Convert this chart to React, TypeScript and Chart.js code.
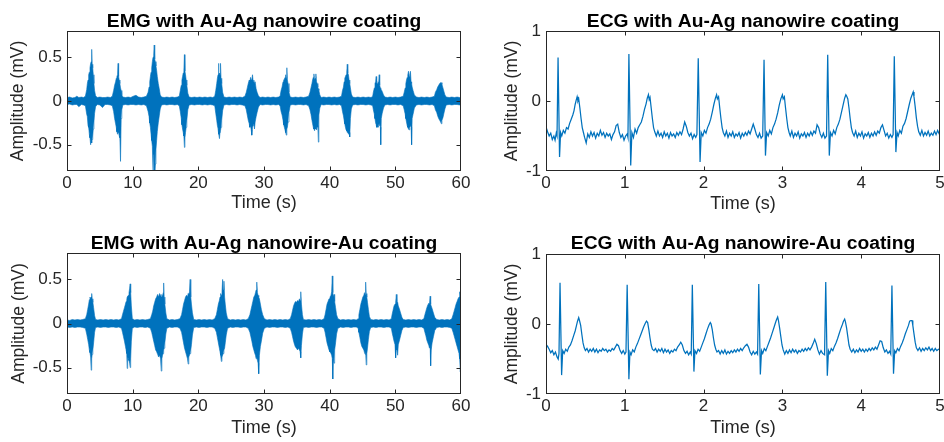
import React, { useEffect, useRef } from "react";
import { Chart, registerables } from "chart.js";

Chart.register(...registerables);

// ---------- data ----------
const emgTimeTicks = [0, 10, 20, 30, 40, 50, 60];
const emgAmpTicks = [-0.5, 0, 0.5];
const ecgTimeTicks = [0, 1, 2, 3, 4, 5];
const ecgAmpTicks = [-1, 0, 1];

const titles = [
  "EMG with Au-Ag nanowire coating",
  "ECG with Au-Ag nanowire coating",
  "EMG with Au-Ag nanowire-Au coating",
  "ECG with Au-Ag nanowire-Au coating",
];
const timeLabel = "Time (s)";
const ampLabel = "Amplitude (mV)";

// EMG envelopes: [time s, upper mV, lower mV]
const emg1Envelope: [number, number, number][] = [
  [0, 0.04, -0.04], [0.4, 0.045, -0.035], [0.8, 0.035, -0.045], [1.2, 0.04, -0.04], [1.5, 0.055, -0.04],
  [1.8, 0.04, -0.065], [2.2, 0.045, -0.04], [2.5, 0.04, -0.045], [2.8, 0.055, -0.055],
  [3.0, 0.13, -0.15], [3.1, 0.2, -0.18], [3.2, 0.24, -0.28], [3.3, 0.3, -0.3], [3.4, 0.33, -0.38],
  [3.5, 0.38, -0.42], [3.6, 0.43, -0.5], [3.68, 0.45, -0.46], [3.76, 0.59, -0.48], [3.84, 0.42, -0.44],
  [3.92, 0.38, -0.4], [4.0, 0.3, -0.32], [4.1, 0.2, -0.24], [4.2, 0.12, -0.14], [4.35, 0.06, -0.065],
  [4.6, 0.04, -0.04], [5.0, 0.045, -0.045], [5.4, 0.04, -0.075], [5.8, 0.04, -0.04], [6.2, 0.045, -0.04],
  [6.6, 0.04, -0.045], [6.9, 0.055, -0.055],
  [7.1, 0.12, -0.12], [7.25, 0.18, -0.2], [7.4, 0.22, -0.26], [7.5, 0.26, -0.3], [7.6, 0.28, -0.35],
  [7.7, 0.3, -0.38], [7.78, 0.43, -0.34], [7.86, 0.28, -0.36], [7.95, 0.24, -0.4], [8.05, 0.2, -0.42],
  [8.15, 0.15, -0.69], [8.25, 0.12, -0.2], [8.35, 0.07, -0.1], [8.5, 0.045, -0.045],
  [8.9, 0.04, -0.04], [9.3, 0.045, -0.045], [9.7, 0.04, -0.04], [10.1, 0.055, -0.04], [10.5, 0.065, -0.045],
  [10.9, 0.045, -0.04], [11.3, 0.04, -0.045], [11.7, 0.045, -0.04], [12.1, 0.055, -0.055],
  [12.35, 0.1, -0.12], [12.5, 0.16, -0.18], [12.6, 0.22, -0.25], [12.7, 0.28, -0.3], [12.8, 0.33, -0.38],
  [12.9, 0.38, -0.45], [13.0, 0.45, -0.52], [13.1, 0.5, -0.82], [13.2, 0.52, -0.62], [13.28, 0.64, -0.6],
  [13.36, 0.48, -0.82], [13.45, 0.45, -0.72], [13.55, 0.4, -0.55], [13.65, 0.35, -0.45], [13.75, 0.28, -0.35],
  [13.9, 0.2, -0.25], [14.05, 0.14, -0.17], [14.2, 0.07, -0.09], [14.4, 0.045, -0.045],
  [14.8, 0.04, -0.04], [15.2, 0.045, -0.045], [15.6, 0.04, -0.04], [16.0, 0.045, -0.04], [16.4, 0.04, -0.045],
  [16.8, 0.045, -0.04], [17.1, 0.055, -0.055],
  [17.25, 0.12, -0.12], [17.4, 0.18, -0.2], [17.5, 0.24, -0.27], [17.6, 0.28, -0.32], [17.7, 0.32, -0.36],
  [17.8, 0.35, -0.4], [17.88, 0.53, -0.53], [17.96, 0.34, -0.42], [18.05, 0.3, -0.36], [18.15, 0.24, -0.3],
  [18.25, 0.18, -0.22], [18.4, 0.09, -0.1], [18.6, 0.045, -0.045],
  [19.0, 0.04, -0.04], [19.4, 0.045, -0.045], [19.8, 0.04, -0.04], [20.2, 0.045, -0.04], [20.6, 0.04, -0.045],
  [21.0, 0.045, -0.04], [21.4, 0.04, -0.045], [21.8, 0.045, -0.04], [22.2, 0.04, -0.045], [22.5, 0.055, -0.055],
  [22.65, 0.12, -0.14], [22.8, 0.2, -0.22], [22.9, 0.26, -0.28], [23.0, 0.3, -0.32], [23.06, 0.43, -0.34],
  [23.14, 0.3, -0.38], [23.22, 0.32, -0.43], [23.3, 0.3, -0.36], [23.38, 0.43, -0.34], [23.46, 0.26, -0.3],
  [23.56, 0.2, -0.22], [23.7, 0.1, -0.11], [23.9, 0.045, -0.045],
  [24.3, 0.04, -0.04], [24.7, 0.045, -0.045], [25.1, 0.04, -0.04], [25.5, 0.045, -0.04], [25.9, 0.04, -0.045],
  [26.3, 0.045, -0.04], [26.7, 0.04, -0.045], [27.1, 0.055, -0.055],
  [27.3, 0.1, -0.1], [27.45, 0.15, -0.16], [27.6, 0.2, -0.22], [27.75, 0.24, -0.26], [27.85, 0.22, -0.3],
  [27.95, 0.27, -0.28], [28.05, 0.24, -0.33], [28.15, 0.25, -0.39], [28.25, 0.3, -0.3], [28.35, 0.22, -0.28],
  [28.45, 0.24, -0.26], [28.55, 0.2, -0.32], [28.65, 0.22, -0.24], [28.8, 0.14, -0.18], [28.95, 0.1, -0.13],
  [29.15, 0.06, -0.07], [29.4, 0.04, -0.04],
  [29.8, 0.045, -0.045], [30.2, 0.04, -0.04], [30.6, 0.045, -0.04], [31.0, 0.04, -0.045], [31.4, 0.045, -0.04],
  [31.8, 0.04, -0.045], [32.2, 0.045, -0.04], [32.45, 0.055, -0.055],
  [32.6, 0.12, -0.12], [32.75, 0.16, -0.16], [32.9, 0.22, -0.22], [33.0, 0.24, -0.27], [33.1, 0.25, -0.3],
  [33.2, 0.27, -0.33], [33.3, 0.3, -0.36], [33.4, 0.26, -0.39], [33.48, 0.38, -0.32], [33.56, 0.24, -0.3],
  [33.66, 0.2, -0.24], [33.8, 0.1, -0.13], [34.0, 0.045, -0.045],
  [34.4, 0.04, -0.04], [34.8, 0.045, -0.045], [35.2, 0.04, -0.04], [35.6, 0.045, -0.04], [36.0, 0.04, -0.045],
  [36.4, 0.045, -0.04], [36.8, 0.055, -0.055],
  [37.0, 0.1, -0.1], [37.15, 0.15, -0.15], [37.3, 0.2, -0.22], [37.4, 0.24, -0.26], [37.5, 0.27, -0.3],
  [37.6, 0.31, -0.32], [37.7, 0.24, -0.34], [37.8, 0.26, -0.3], [37.9, 0.31, -0.32], [38.0, 0.22, -0.33],
  [38.1, 0.2, -0.28], [38.2, 0.16, -0.3], [38.28, 0.14, -0.47], [38.36, 0.12, -0.16], [38.5, 0.07, -0.08],
  [38.7, 0.04, -0.04],
  [39.1, 0.045, -0.045], [39.5, 0.04, -0.04], [39.9, 0.045, -0.04], [40.3, 0.04, -0.045], [40.7, 0.045, -0.04],
  [41.1, 0.04, -0.045], [41.5, 0.045, -0.04], [41.8, 0.055, -0.055],
  [41.95, 0.12, -0.12], [42.1, 0.16, -0.17], [42.2, 0.22, -0.22], [42.3, 0.26, -0.26], [42.4, 0.28, -0.3],
  [42.5, 0.3, -0.33], [42.6, 0.33, -0.34], [42.68, 0.42, -0.36], [42.76, 0.32, -0.35], [42.86, 0.3, -0.38],
  [42.96, 0.24, -0.36], [43.06, 0.2, -0.41], [43.16, 0.15, -0.2], [43.3, 0.08, -0.09], [43.5, 0.045, -0.045],
  [43.9, 0.04, -0.04], [44.3, 0.045, -0.045], [44.7, 0.04, -0.04], [45.1, 0.045, -0.04], [45.5, 0.04, -0.045],
  [45.9, 0.045, -0.04], [46.3, 0.04, -0.045], [46.55, 0.055, -0.055],
  [46.65, 0.1, -0.1], [46.8, 0.15, -0.15], [46.9, 0.2, -0.2], [47.0, 0.22, -0.25], [47.08, 0.28, -0.27],
  [47.16, 0.21, -0.3], [47.26, 0.2, -0.28], [47.36, 0.22, -0.3], [47.46, 0.2, -0.26], [47.54, 0.3, -0.28],
  [47.62, 0.18, -0.25], [47.72, 0.15, -0.3], [47.78, 0.14, -0.5], [47.86, 0.13, -0.2], [48.0, 0.11, -0.14],
  [48.2, 0.07, -0.08], [48.4, 0.045, -0.045],
  [48.8, 0.04, -0.04], [49.2, 0.045, -0.045], [49.6, 0.04, -0.04], [50.0, 0.045, -0.04], [50.4, 0.04, -0.045],
  [50.8, 0.045, -0.04], [51.2, 0.055, -0.055],
  [51.35, 0.1, -0.1], [51.5, 0.15, -0.15], [51.6, 0.2, -0.2], [51.7, 0.24, -0.24], [51.8, 0.27, -0.28],
  [51.9, 0.3, -0.3], [52.0, 0.34, -0.32], [52.1, 0.28, -0.33], [52.2, 0.3, -0.3], [52.3, 0.34, -0.28],
  [52.4, 0.22, -0.3], [52.48, 0.2, -0.5], [52.56, 0.16, -0.2], [52.7, 0.12, -0.15], [52.9, 0.07, -0.08],
  [53.2, 0.045, -0.045],
  [53.6, 0.04, -0.04], [54.0, 0.045, -0.045], [54.4, 0.04, -0.04], [54.8, 0.045, -0.04], [55.2, 0.04, -0.045],
  [55.6, 0.045, -0.04], [55.95, 0.055, -0.055],
  [56.1, 0.1, -0.1], [56.3, 0.13, -0.13], [56.45, 0.16, -0.17], [56.6, 0.18, -0.2], [56.75, 0.2, -0.22],
  [56.9, 0.21, -0.24], [57.0, 0.21, -0.26], [57.1, 0.19, -0.22], [57.25, 0.15, -0.19], [57.4, 0.11, -0.14],
  [57.55, 0.07, -0.09], [57.75, 0.045, -0.045],
  [58.2, 0.04, -0.04], [58.6, 0.045, -0.045], [59.0, 0.04, -0.04], [59.4, 0.045, -0.04], [59.8, 0.04, -0.045],
  [60.0, 0.04, -0.04],
];

const emg2Envelope: [number, number, number][] = [
  [0, 0.04, -0.04], [0.4, 0.035, -0.045], [0.8, 0.045, -0.04], [1.2, 0.04, -0.045], [1.6, 0.045, -0.04],
  [2.0, 0.04, -0.04], [2.4, 0.045, -0.045], [2.8, 0.055, -0.055],
  [3.0, 0.1, -0.12], [3.15, 0.16, -0.18], [3.3, 0.22, -0.24], [3.4, 0.27, -0.3], [3.5, 0.3, -0.33],
  [3.6, 0.28, -0.38], [3.68, 0.3, -0.53], [3.76, 0.34, -0.4], [3.84, 0.28, -0.35], [3.94, 0.24, -0.3],
  [4.05, 0.18, -0.22], [4.2, 0.09, -0.1], [4.35, 0.045, -0.045],
  [4.7, 0.04, -0.04], [5.1, 0.045, -0.045], [5.5, 0.04, -0.04], [5.9, 0.045, -0.04], [6.3, 0.04, -0.045],
  [6.7, 0.045, -0.04], [7.1, 0.04, -0.04], [7.5, 0.045, -0.045], [7.9, 0.04, -0.04], [8.3, 0.055, -0.055],
  [8.45, 0.1, -0.1], [8.6, 0.14, -0.15], [8.75, 0.18, -0.2], [8.9, 0.22, -0.26], [9.0, 0.25, -0.3],
  [9.1, 0.27, -0.34], [9.16, 0.3, -0.51], [9.24, 0.3, -0.38], [9.34, 0.32, -0.4], [9.44, 0.35, -0.42],
  [9.54, 0.4, -0.45], [9.62, 0.45, -0.5], [9.7, 0.35, -0.4], [9.8, 0.2, -0.2], [9.95, 0.055, -0.055],
  [10.3, 0.04, -0.04], [10.7, 0.045, -0.045], [11.1, 0.04, -0.04], [11.5, 0.045, -0.04], [11.9, 0.04, -0.045],
  [12.3, 0.045, -0.04], [12.7, 0.055, -0.055],
  [12.9, 0.1, -0.1], [13.05, 0.14, -0.15], [13.2, 0.2, -0.2], [13.35, 0.24, -0.25], [13.5, 0.28, -0.3],
  [13.65, 0.3, -0.32], [13.8, 0.33, -0.35], [13.95, 0.3, -0.38], [14.1, 0.34, -0.36], [14.25, 0.32, -0.4],
  [14.35, 0.3, -0.54], [14.45, 0.33, -0.4], [14.55, 0.3, -0.36], [14.65, 0.35, -0.34], [14.72, 0.46, -0.3],
  [14.8, 0.3, -0.28], [14.9, 0.22, -0.22], [15.05, 0.12, -0.12], [15.2, 0.055, -0.055],
  [15.6, 0.04, -0.04], [16.0, 0.045, -0.045], [16.4, 0.04, -0.04], [16.8, 0.045, -0.04], [17.2, 0.055, -0.055],
  [17.45, 0.1, -0.1], [17.6, 0.16, -0.16], [17.75, 0.22, -0.22], [17.9, 0.26, -0.28], [18.05, 0.3, -0.32],
  [18.2, 0.32, -0.36], [18.35, 0.3, -0.4], [18.45, 0.34, -0.46], [18.55, 0.32, -0.38], [18.65, 0.36, -0.36],
  [18.75, 0.5, -0.34], [18.85, 0.3, -0.3], [18.95, 0.22, -0.24], [19.1, 0.12, -0.13], [19.3, 0.045, -0.045],
  [19.7, 0.04, -0.04], [20.1, 0.045, -0.045], [20.5, 0.04, -0.04], [20.9, 0.045, -0.04], [21.3, 0.04, -0.045],
  [21.7, 0.045, -0.04], [22.1, 0.04, -0.04], [22.5, 0.055, -0.055],
  [22.75, 0.1, -0.1], [22.9, 0.16, -0.16], [23.05, 0.22, -0.22], [23.2, 0.26, -0.28], [23.3, 0.3, -0.32],
  [23.4, 0.34, -0.36], [23.5, 0.32, -0.43], [23.6, 0.36, -0.38], [23.7, 0.5, -0.36], [23.8, 0.38, -0.34],
  [23.9, 0.48, -0.3], [24.0, 0.3, -0.28], [24.1, 0.22, -0.22], [24.25, 0.12, -0.13], [24.45, 0.055, -0.055],
  [24.85, 0.04, -0.04], [25.25, 0.045, -0.045], [25.65, 0.04, -0.04], [26.05, 0.045, -0.04], [26.45, 0.04, -0.045],
  [26.85, 0.045, -0.04], [27.25, 0.04, -0.04], [27.6, 0.055, -0.055],
  [27.85, 0.1, -0.1], [28.0, 0.15, -0.15], [28.15, 0.2, -0.2], [28.3, 0.25, -0.26], [28.45, 0.3, -0.3],
  [28.6, 0.32, -0.34], [28.7, 0.35, -0.36], [28.8, 0.38, -0.4], [28.9, 0.47, -0.38], [29.0, 0.35, -0.42],
  [29.1, 0.32, -0.45], [29.2, 0.3, -0.57], [29.3, 0.28, -0.36], [29.45, 0.22, -0.26], [29.6, 0.16, -0.2],
  [29.8, 0.1, -0.11], [30.05, 0.055, -0.055],
  [30.45, 0.04, -0.04], [30.85, 0.045, -0.045], [31.25, 0.04, -0.04], [31.65, 0.045, -0.04], [32.05, 0.04, -0.045],
  [32.45, 0.045, -0.04], [32.85, 0.04, -0.04], [33.25, 0.045, -0.045], [33.65, 0.04, -0.04], [34.0, 0.055, -0.055],
  [34.2, 0.1, -0.1], [34.35, 0.15, -0.15], [34.5, 0.2, -0.2], [34.65, 0.23, -0.24], [34.8, 0.25, -0.27],
  [34.95, 0.24, -0.28], [35.1, 0.26, -0.3], [35.25, 0.25, -0.28], [35.4, 0.28, -0.3], [35.5, 0.26, -0.32],
  [35.6, 0.36, -0.39], [35.7, 0.22, -0.25], [35.85, 0.1, -0.12], [36.0, 0.045, -0.045],
  [36.4, 0.04, -0.04], [36.8, 0.045, -0.045], [37.2, 0.04, -0.04], [37.6, 0.045, -0.04], [38.0, 0.04, -0.045],
  [38.4, 0.045, -0.04], [38.8, 0.04, -0.04], [39.15, 0.055, -0.055],
  [39.3, 0.1, -0.1], [39.45, 0.16, -0.16], [39.6, 0.22, -0.22], [39.75, 0.25, -0.26], [39.9, 0.28, -0.3],
  [40.05, 0.3, -0.32], [40.2, 0.32, -0.34], [40.3, 0.36, -0.36], [40.4, 0.54, -0.4], [40.48, 0.35, -0.63],
  [40.56, 0.3, -0.38], [40.66, 0.33, -0.45], [40.76, 0.25, -0.3], [40.9, 0.18, -0.22], [41.05, 0.1, -0.12],
  [41.25, 0.055, -0.055],
  [41.65, 0.04, -0.04], [42.05, 0.045, -0.045], [42.45, 0.04, -0.04], [42.85, 0.045, -0.04], [43.25, 0.04, -0.045],
  [43.65, 0.045, -0.04], [44.05, 0.04, -0.04], [44.35, 0.055, -0.055],
  [44.45, 0.1, -0.1], [44.6, 0.16, -0.16], [44.75, 0.22, -0.22], [44.9, 0.26, -0.26], [45.05, 0.3, -0.28],
  [45.2, 0.32, -0.3], [45.3, 0.35, -0.33], [45.4, 0.33, -0.35], [45.48, 0.47, -0.32], [45.56, 0.34, -0.47],
  [45.66, 0.3, -0.34], [45.76, 0.24, -0.28], [45.9, 0.16, -0.18], [46.05, 0.08, -0.09], [46.25, 0.045, -0.045],
  [46.65, 0.04, -0.04], [47.05, 0.045, -0.045], [47.45, 0.04, -0.04], [47.85, 0.045, -0.04], [48.25, 0.04, -0.045],
  [48.65, 0.045, -0.04], [49.05, 0.04, -0.04], [49.4, 0.055, -0.055],
  [49.5, 0.1, -0.1], [49.65, 0.15, -0.15], [49.8, 0.2, -0.2], [49.95, 0.22, -0.24], [50.05, 0.24, -0.39],
  [50.15, 0.33, -0.28], [50.25, 0.22, -0.3], [50.35, 0.24, -0.36], [50.45, 0.2, -0.24], [50.6, 0.17, -0.2],
  [50.8, 0.12, -0.14], [51.0, 0.07, -0.08], [51.2, 0.045, -0.045],
  [51.6, 0.04, -0.04], [52.0, 0.045, -0.045], [52.4, 0.04, -0.04], [52.8, 0.045, -0.04], [53.2, 0.04, -0.045],
  [53.6, 0.045, -0.04], [54.0, 0.04, -0.04], [54.35, 0.055, -0.055],
  [54.5, 0.1, -0.1], [54.65, 0.14, -0.14], [54.8, 0.18, -0.19], [54.95, 0.21, -0.22], [55.1, 0.23, -0.25],
  [55.2, 0.22, -0.28], [55.3, 0.31, -0.26], [55.38, 0.22, -0.48], [55.46, 0.2, -0.3], [55.6, 0.17, -0.22],
  [55.8, 0.12, -0.15], [56.0, 0.07, -0.08], [56.3, 0.045, -0.045],
  [56.7, 0.04, -0.04], [57.1, 0.045, -0.045], [57.5, 0.04, -0.04], [57.9, 0.045, -0.04], [58.3, 0.04, -0.045],
  [58.6, 0.055, -0.055],
  [58.8, 0.1, -0.1], [58.95, 0.14, -0.14], [59.1, 0.18, -0.18], [59.25, 0.22, -0.22], [59.4, 0.25, -0.26],
  [59.55, 0.28, -0.3], [59.7, 0.3, -0.34], [59.8, 0.36, -0.4], [59.9, 0.33, -0.55], [60.0, 0.3, -0.3],
];

// ECG traces: [time s, amplitude mV]
const ecg1Trace: [number, number][] = [
  [0.0, -0.37], [0.02, -0.44], [0.04, -0.5], [0.06, -0.46], [0.08, -0.55], [0.1, -0.5], [0.115, -0.56],
  [0.13, -0.46], [0.14, -0.5], [0.153, 0.62], [0.172, -0.8], [0.185, -0.45], [0.2, -0.5], [0.22, -0.42],
  [0.24, -0.46], [0.26, -0.38], [0.28, -0.4], [0.3, -0.32], [0.32, -0.26], [0.34, -0.2], [0.355, -0.14],
  [0.37, -0.05], [0.385, 0.02], [0.395, 0.06], [0.405, 0.0], [0.415, 0.03], [0.43, -0.1], [0.445, -0.25],
  [0.46, -0.38], [0.475, -0.45], [0.49, -0.52], [0.51, -0.6], [0.53, -0.47], [0.55, -0.52], [0.57, -0.44],
  [0.59, -0.5], [0.61, -0.45], [0.63, -0.53], [0.65, -0.46], [0.67, -0.5], [0.69, -0.42], [0.71, -0.49],
  [0.73, -0.45], [0.75, -0.52], [0.77, -0.46], [0.79, -0.5], [0.81, -0.47], [0.83, -0.55], [0.85, -0.48],
  [0.87, -0.44], [0.89, -0.35], [0.91, -0.33], [0.93, -0.45], [0.95, -0.52], [0.97, -0.48], [0.99, -0.56],
  [1.01, -0.5], [1.03, -0.47], [1.04, -0.52], [1.052, 0.67], [1.075, -0.92], [1.09, -0.45], [1.11, -0.52],
  [1.13, -0.4], [1.15, -0.46], [1.17, -0.38], [1.19, -0.34], [1.21, -0.3], [1.23, -0.22], [1.25, -0.12],
  [1.27, -0.04], [1.285, 0.04], [1.3, 0.09], [1.31, 0.02], [1.32, 0.05], [1.335, -0.1], [1.35, -0.25],
  [1.365, -0.38], [1.38, -0.44], [1.4, -0.5], [1.42, -0.43], [1.44, -0.5], [1.46, -0.46], [1.48, -0.52],
  [1.5, -0.44], [1.52, -0.5], [1.54, -0.46], [1.56, -0.53], [1.58, -0.45], [1.6, -0.5], [1.62, -0.47],
  [1.64, -0.52], [1.66, -0.45], [1.68, -0.49], [1.7, -0.44], [1.72, -0.48], [1.74, -0.4], [1.76, -0.3],
  [1.78, -0.36], [1.8, -0.45], [1.82, -0.5], [1.84, -0.46], [1.86, -0.54], [1.88, -0.48], [1.9, -0.52],
  [1.915, -0.48], [1.932, 0.61], [1.955, -0.87], [1.97, -0.45], [1.99, -0.5], [2.01, -0.42], [2.03, -0.46],
  [2.05, -0.38], [2.07, -0.33], [2.09, -0.26], [2.11, -0.16], [2.13, -0.05], [2.15, 0.04], [2.165, 0.09],
  [2.175, 0.03], [2.19, 0.06], [2.205, -0.1], [2.22, -0.25], [2.235, -0.38], [2.25, -0.45], [2.27, -0.5],
  [2.29, -0.43], [2.31, -0.52], [2.33, -0.46], [2.35, -0.5], [2.37, -0.44], [2.39, -0.52], [2.41, -0.47],
  [2.43, -0.5], [2.45, -0.45], [2.47, -0.53], [2.49, -0.46], [2.51, -0.5], [2.53, -0.45], [2.55, -0.49],
  [2.57, -0.43], [2.59, -0.47], [2.61, -0.4], [2.63, -0.33], [2.65, -0.4], [2.67, -0.48], [2.69, -0.52],
  [2.71, -0.46], [2.73, -0.53], [2.75, -0.5], [2.767, 0.59], [2.785, -0.78], [2.8, -0.45], [2.82, -0.5],
  [2.84, -0.42], [2.86, -0.47], [2.88, -0.38], [2.9, -0.33], [2.92, -0.26], [2.94, -0.17], [2.96, -0.06],
  [2.98, 0.03], [3.0, 0.09], [3.01, 0.03], [3.025, 0.06], [3.04, -0.1], [3.055, -0.25], [3.07, -0.38],
  [3.085, -0.45], [3.1, -0.5], [3.12, -0.43], [3.14, -0.52], [3.16, -0.46], [3.18, -0.5], [3.2, -0.44],
  [3.22, -0.53], [3.24, -0.47], [3.26, -0.5], [3.28, -0.45], [3.3, -0.52], [3.32, -0.46], [3.34, -0.5],
  [3.36, -0.44], [3.38, -0.49], [3.4, -0.43], [3.42, -0.46], [3.44, -0.34], [3.46, -0.38], [3.48, -0.47],
  [3.5, -0.52], [3.52, -0.46], [3.54, -0.53], [3.56, -0.5], [3.575, 0.66], [3.595, -0.78], [3.61, -0.45],
  [3.63, -0.5], [3.65, -0.42], [3.67, -0.47], [3.69, -0.38], [3.71, -0.33], [3.73, -0.26], [3.75, -0.16],
  [3.77, -0.06], [3.79, 0.04], [3.805, 0.09], [3.815, 0.07], [3.83, 0.03], [3.845, -0.1], [3.86, -0.25],
  [3.875, -0.38], [3.89, -0.45], [3.91, -0.5], [3.93, -0.43], [3.95, -0.52], [3.97, -0.46], [3.99, -0.5],
  [4.01, -0.44], [4.03, -0.53], [4.05, -0.47], [4.07, -0.5], [4.09, -0.45], [4.11, -0.52], [4.13, -0.46],
  [4.15, -0.5], [4.17, -0.44], [4.19, -0.49], [4.21, -0.43], [4.23, -0.46], [4.25, -0.38], [4.27, -0.34],
  [4.29, -0.42], [4.31, -0.5], [4.33, -0.46], [4.35, -0.53], [4.37, -0.48], [4.39, -0.52], [4.405, -0.48],
  [4.42, 0.64], [4.44, -0.73], [4.455, -0.45], [4.47, -0.5], [4.49, -0.42], [4.51, -0.46], [4.53, -0.36],
  [4.55, -0.32], [4.57, -0.25], [4.59, -0.15], [4.61, -0.05], [4.63, 0.04], [4.65, 0.1], [4.66, 0.13],
  [4.67, 0.06], [4.685, -0.08], [4.7, -0.24], [4.715, -0.36], [4.73, -0.44], [4.75, -0.49], [4.77, -0.42],
  [4.79, -0.5], [4.81, -0.45], [4.83, -0.49], [4.85, -0.43], [4.87, -0.5], [4.89, -0.46], [4.91, -0.49],
  [4.93, -0.43], [4.95, -0.48], [4.97, -0.42], [4.99, -0.47], [5.0, -0.45],
];

const ecg2Trace: [number, number][] = [
  [0.0, -0.29], [0.02, -0.32], [0.04, -0.36], [0.06, -0.41], [0.08, -0.38], [0.1, -0.44], [0.12, -0.4],
  [0.14, -0.47], [0.155, -0.5], [0.165, -0.42], [0.178, 0.59], [0.198, -0.73], [0.212, -0.38], [0.23, -0.42],
  [0.25, -0.36], [0.27, -0.39], [0.29, -0.33], [0.31, -0.3], [0.33, -0.24], [0.35, -0.17], [0.37, -0.1],
  [0.385, -0.03], [0.4, 0.04], [0.415, 0.09], [0.425, 0.05], [0.44, -0.02], [0.455, -0.15], [0.47, -0.27],
  [0.485, -0.34], [0.5, -0.38], [0.52, -0.35], [0.54, -0.4], [0.56, -0.36], [0.58, -0.39], [0.6, -0.35],
  [0.62, -0.4], [0.64, -0.36], [0.66, -0.41], [0.68, -0.37], [0.7, -0.39], [0.72, -0.35], [0.74, -0.38],
  [0.76, -0.36], [0.78, -0.4], [0.8, -0.37], [0.82, -0.39], [0.84, -0.35], [0.86, -0.37], [0.88, -0.33],
  [0.9, -0.29], [0.92, -0.31], [0.94, -0.38], [0.96, -0.42], [0.98, -0.38], [1.0, -0.43], [1.015, -0.4],
  [1.03, 0.56], [1.052, -0.79], [1.065, -0.4], [1.08, -0.44], [1.1, -0.37], [1.12, -0.4], [1.14, -0.33],
  [1.16, -0.28], [1.18, -0.22], [1.2, -0.16], [1.22, -0.1], [1.24, -0.04], [1.26, 0.01], [1.275, 0.04],
  [1.29, 0.02], [1.305, -0.08], [1.32, -0.2], [1.335, -0.3], [1.35, -0.36], [1.37, -0.38], [1.39, -0.35],
  [1.41, -0.4], [1.43, -0.36], [1.45, -0.39], [1.47, -0.35], [1.49, -0.41], [1.51, -0.36], [1.53, -0.4],
  [1.55, -0.37], [1.57, -0.42], [1.59, -0.38], [1.61, -0.4], [1.63, -0.36], [1.65, -0.38], [1.67, -0.33],
  [1.69, -0.3], [1.71, -0.26], [1.73, -0.3], [1.75, -0.38], [1.77, -0.42], [1.79, -0.39], [1.81, -0.44],
  [1.83, -0.4], [1.843, -0.43], [1.857, 0.56], [1.877, -0.68], [1.89, -0.38], [1.91, -0.42], [1.93, -0.36],
  [1.95, -0.39], [1.97, -0.33], [1.99, -0.27], [2.01, -0.21], [2.03, -0.14], [2.05, -0.07], [2.07, -0.01],
  [2.085, 0.02], [2.095, 0.0], [2.11, -0.08], [2.125, -0.2], [2.14, -0.3], [2.155, -0.36], [2.17, -0.4],
  [2.19, -0.38], [2.21, -0.43], [2.23, -0.38], [2.25, -0.42], [2.27, -0.37], [2.29, -0.43], [2.31, -0.39],
  [2.33, -0.42], [2.35, -0.38], [2.37, -0.41], [2.39, -0.37], [2.41, -0.4], [2.43, -0.36], [2.45, -0.39],
  [2.47, -0.35], [2.49, -0.38], [2.51, -0.34], [2.53, -0.31], [2.55, -0.29], [2.57, -0.33], [2.59, -0.4],
  [2.61, -0.44], [2.63, -0.39], [2.65, -0.43], [2.67, -0.4], [2.685, -0.43], [2.7, 0.57], [2.72, -0.72],
  [2.735, -0.38], [2.75, -0.42], [2.77, -0.35], [2.79, -0.38], [2.81, -0.32], [2.83, -0.26], [2.85, -0.2],
  [2.87, -0.13], [2.89, -0.06], [2.91, 0.01], [2.925, 0.06], [2.94, 0.1], [2.95, 0.05], [2.965, -0.06],
  [2.98, -0.18], [2.995, -0.3], [3.01, -0.37], [3.03, -0.43], [3.05, -0.38], [3.07, -0.42], [3.09, -0.37],
  [3.11, -0.41], [3.13, -0.36], [3.15, -0.4], [3.17, -0.37], [3.19, -0.42], [3.21, -0.38], [3.23, -0.4],
  [3.25, -0.36], [3.27, -0.39], [3.29, -0.35], [3.31, -0.38], [3.33, -0.34], [3.35, -0.37], [3.37, -0.33],
  [3.39, -0.28], [3.41, -0.22], [3.43, -0.28], [3.45, -0.37], [3.47, -0.43], [3.49, -0.38], [3.51, -0.42],
  [3.535, -0.44], [3.55, 0.6], [3.57, -0.74], [3.585, -0.38], [3.6, -0.42], [3.62, -0.35], [3.64, -0.38],
  [3.66, -0.32], [3.68, -0.27], [3.7, -0.21], [3.72, -0.14], [3.74, -0.07], [3.76, -0.01], [3.775, 0.04],
  [3.79, 0.07], [3.8, 0.03], [3.815, -0.06], [3.83, -0.18], [3.845, -0.3], [3.86, -0.36], [3.88, -0.4],
  [3.9, -0.36], [3.92, -0.41], [3.94, -0.37], [3.96, -0.4], [3.98, -0.35], [4.0, -0.39], [4.02, -0.36],
  [4.04, -0.4], [4.06, -0.36], [4.08, -0.39], [4.1, -0.35], [4.12, -0.38], [4.14, -0.34], [4.16, -0.37],
  [4.18, -0.33], [4.2, -0.36], [4.22, -0.3], [4.24, -0.24], [4.26, -0.25], [4.28, -0.34], [4.3, -0.4],
  [4.32, -0.37], [4.34, -0.42], [4.36, -0.39], [4.375, -0.43], [4.39, 0.55], [4.41, -0.71], [4.425, -0.38],
  [4.44, -0.41], [4.46, -0.35], [4.48, -0.38], [4.5, -0.32], [4.52, -0.27], [4.54, -0.21], [4.56, -0.14],
  [4.58, -0.08], [4.6, -0.02], [4.615, 0.04], [4.63, 0.05], [4.645, 0.05], [4.655, -0.02], [4.67, -0.14],
  [4.685, -0.26], [4.7, -0.34], [4.72, -0.38], [4.74, -0.34], [4.76, -0.39], [4.78, -0.35], [4.8, -0.38],
  [4.82, -0.34], [4.84, -0.37], [4.86, -0.33], [4.88, -0.38], [4.9, -0.35], [4.92, -0.39], [4.94, -0.35],
  [4.96, -0.38], [4.98, -0.36], [5.0, -0.37],
];

// ---------- style ----------
const BLUE = "#0072BD";
const AXIS = "#262626";
const FONT = "'Liberation Sans', Arial, Helvetica, sans-serif";

type Panel = {
  title: string;
  left: number;
  top: number;
  area: { l: number; r: number; t: number; b: number };
  titleBaseline: number;
  xMin: number; xMax: number; yMin: number; yMax: number;
  xTicks: number[]; yTicks: number[];
  yTitlePad: number; xTitlePad: number;
  band?: [number, number, number][];
  trace?: [number, number][];
};

const W = 472;
const H = 221;

const panels: Panel[] = [
  {
    title: titles[0], left: 0, top: 0, area: { l: 67, r: 461, t: 31, b: 171 }, titleBaseline: 27,
    xMin: 0, xMax: 60, yMin: -0.8, yMax: 0.8, xTicks: emgTimeTicks, yTicks: emgAmpTicks,
    yTitlePad: 7.7, xTitlePad: 6.7, band: emg1Envelope,
  },
  {
    title: titles[1], left: 472, top: 0, area: { l: 74, r: 468, t: 31, b: 171 }, titleBaseline: 27,
    xMin: 0, xMax: 5, yMin: -1, yMax: 1, xTicks: ecgTimeTicks, yTicks: ecgAmpTicks,
    yTitlePad: 29.9, xTitlePad: 6.2, trace: ecg1Trace,
  },
  {
    title: titles[2], left: 0, top: 221, area: { l: 67, r: 461, t: 32, b: 173 }, titleBaseline: 28.3,
    xMin: 0, xMax: 60, yMin: -0.8, yMax: 0.8, xTicks: emgTimeTicks, yTicks: emgAmpTicks,
    yTitlePad: 8.3, xTitlePad: 3.4, band: emg2Envelope,
  },
  {
    title: titles[3], left: 472, top: 221, area: { l: 74, r: 468, t: 33, b: 173 }, titleBaseline: 28.3,
    xMin: 0, xMax: 5, yMin: -1, yMax: 1, xTicks: ecgTimeTicks, yTicks: ecgAmpTicks,
    yTitlePad: 29.9, xTitlePad: 3.4, trace: ecg2Trace,
  },
];

const boxPlugin = {
  id: "matlabBox",
  afterDraw(chart: any) {
    const { ctx, chartArea, scales } = chart;
    const L = Math.round(chartArea.left) + 0.5;
    const R = Math.round(chartArea.right) - 0.5;
    const T = Math.round(chartArea.top) + 0.5;
    const B = Math.round(chartArea.bottom) - 0.5;
    ctx.save();
    ctx.strokeStyle = AXIS;
    ctx.lineWidth = 1;
    ctx.strokeRect(L, T, R - L, B - T);
    ctx.beginPath();
    const tl = 4;
    scales.x.ticks.forEach((t: any) => {
      const px = Math.round(scales.x.getPixelForValue(t.value)) + 0.5;
      if (px <= L + 1 || px >= R - 1) return;
      ctx.moveTo(px, B); ctx.lineTo(px, B - tl);
      ctx.moveTo(px, T); ctx.lineTo(px, T + tl);
    });
    scales.y.ticks.forEach((t: any) => {
      const py = Math.round(scales.y.getPixelForValue(t.value)) + 0.5;
      if (py <= T + 1 || py >= B - 1) return;
      ctx.moveTo(L, py); ctx.lineTo(L + tl, py);
      ctx.moveTo(R, py); ctx.lineTo(R - tl, py);
    });
    ctx.stroke();
    ctx.restore();
  },
};

function makeTitlePlugin(text: string, baseline: number) {
  return {
    id: "panelTitle",
    afterDraw(chart: any) {
      const { ctx, chartArea } = chart;
      ctx.save();
      ctx.font = `bold 17.5px ${FONT}`;
      ctx.fillStyle = "#000000";
      ctx.textAlign = "center";
      ctx.textBaseline = "alphabetic";
      ctx.translate((chartArea.left + chartArea.right) / 2, baseline);
      ctx.scale(1.1, 1);
      ctx.fillText(text, 0, 0);
      ctx.restore();
    },
  };
}

function PanelChart({ p }: { p: Panel }) {
  const ref = useRef<HTMLCanvasElement | null>(null);
  useEffect(() => {
    if (!ref.current) return;
    const datasets: any[] = [];
    if (p.band) {
      datasets.push({
        data: p.band.map(([t, hi]) => ({ x: t, y: hi })),
        borderColor: BLUE, backgroundColor: BLUE, borderWidth: 0.6, fill: "+1",
        pointRadius: 0, tension: 0,
      });
      datasets.push({
        data: p.band.map(([t, , lo]) => ({ x: t, y: lo })),
        borderColor: BLUE, backgroundColor: BLUE, borderWidth: 0.6, fill: false,
        pointRadius: 0, tension: 0,
      });
    }
    if (p.trace) {
      datasets.push({
        data: p.trace.map(([t, v]) => ({ x: t, y: v })),
        borderColor: BLUE, borderWidth: 1.25, fill: false, pointRadius: 0, tension: 0,
      });
    }
    const tickFont = { family: FONT, size: 17 };
    const chart = new Chart(ref.current, {
      type: "line",
      data: { datasets },
      options: {
        animation: false,
        responsive: false,
        maintainAspectRatio: false,
        events: [],
        layout: { padding: { left: 0, top: p.area.t, right: W - p.area.r, bottom: 0 } },
        plugins: { legend: { display: false }, tooltip: { enabled: false }, title: { display: false } },
        scales: {
          x: {
            type: "linear", position: "bottom", min: p.xMin, max: p.xMax,
            grid: { display: false, drawTicks: false }, border: { display: false },
            ticks: {
              font: tickFont, color: AXIS, padding: 2, maxRotation: 0, autoSkip: false,
              callback: (v: any) => String(v),
            },
            afterBuildTicks: (s: any) => { s.ticks = p.xTicks.map((v) => ({ value: v })); },
            afterFit: (s: any) => { s.height = H - p.area.b; s.paddingLeft = 0; s.paddingRight = 0; },
            title: {
              display: true, text: timeLabel, color: AXIS, font: { family: FONT, size: 18 },
              padding: { top: 0, bottom: p.xTitlePad },
            },
          },
          y: {
            type: "linear", position: "left", min: p.yMin, max: p.yMax,
            grid: { display: false, drawTicks: false }, border: { display: false },
            ticks: { font: tickFont, color: AXIS, padding: 5, callback: (v: any) => String(v) },
            afterBuildTicks: (s: any) => { s.ticks = p.yTicks.map((v) => ({ value: v })); },
            afterFit: (s: any) => { s.width = p.area.l; s.paddingTop = 0; s.paddingBottom = 0; },
            title: {
              display: true, text: ampLabel, color: AXIS, font: { family: FONT, size: 17.5 },
              padding: { top: p.yTitlePad, bottom: 0 },
            },
          },
        },
      } as any,
      plugins: [boxPlugin, makeTitlePlugin(p.title, p.titleBaseline)],
    });
    return () => chart.destroy();
  }, [p]);
  return (
    <canvas
      ref={ref}
      width={W}
      height={H}
      style={{ position: "absolute", left: p.left, top: p.top, width: W, height: H }}
    />
  );
}

export default function App() {
  return (
    <div
      style={{
        position: "fixed", left: 0, top: 0, width: 944, height: 442,
        background: "#ffffff", overflow: "hidden",
      }}
    >
      {panels.map((p, i) => (
        <PanelChart key={i} p={p} />
      ))}
    </div>
  );
}
